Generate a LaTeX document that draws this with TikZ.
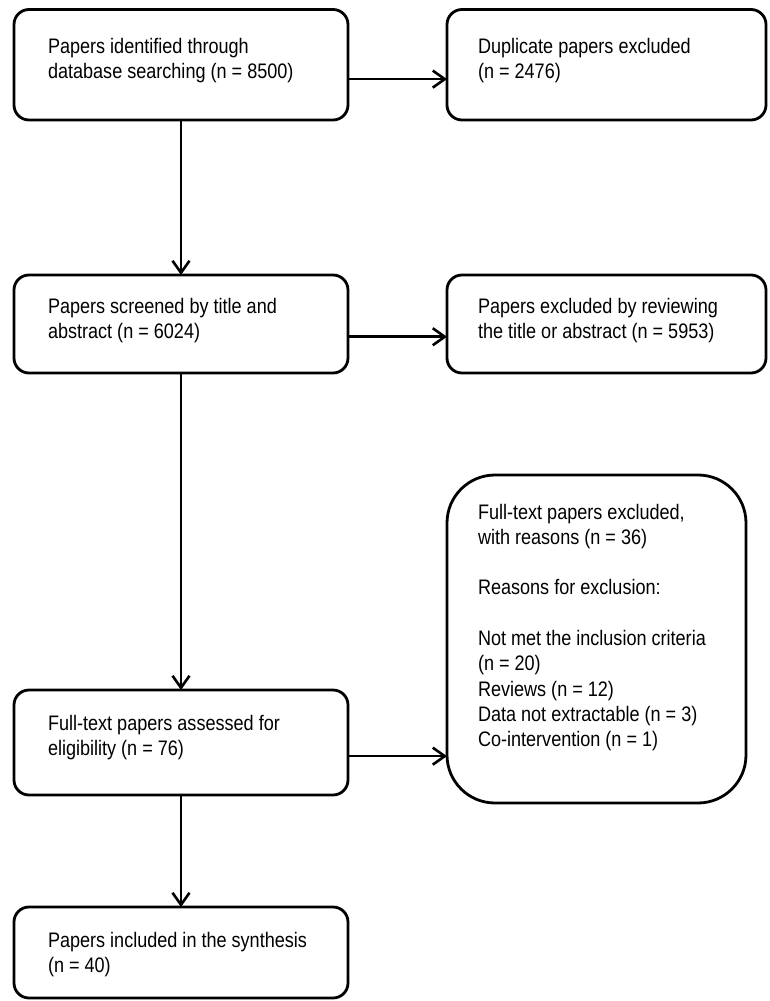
\documentclass[tikz,border=0pt]{standalone}
\usepackage{fontspec}
\setmainfont[FakeStretch=0.86]{Liberation Sans}
\usetikzlibrary{arrows.meta,calc}
\newcommand\fstrut{\rule{0pt}{17pt}}
\begin{document}
\begin{tikzpicture}[x=1pt,y=-1pt,
  box/.style={draw, line width=2.8pt, rounded corners=15pt, inner sep=0pt, outer sep=0pt, rectangle},
  bigbox/.style={box, rounded corners=48pt},
  txt/.style={anchor=north west, inner sep=0pt, outer sep=0pt, align=left, font=\fontsize{21}{25.3}\selectfont},
  arr/.style={line width=2.6pt, -{Straight Barb[length=12pt,width=17pt]}}]
\useasboundingbox (0,0) rectangle (769,1001);
\node[box, minimum width=334pt, minimum height=110.5pt] (b1) at (181,64.75) {};
\node[box, minimum width=319pt, minimum height=110.5pt] (b2) at (606.5,64.75) {};
\node[box, minimum width=334pt, minimum height=98pt] (b3) at (181,324) {};
\node[box, minimum width=319pt, minimum height=98pt] (b4) at (606.5,324) {};
\node[bigbox, minimum width=299pt, minimum height=328pt] (b5) at (596.5,639) {};
\node[box, minimum width=334pt, minimum height=105pt] (b6) at (181,742.5) {};
\node[box, minimum width=334pt, minimum height=91pt] (b7) at (181,952.5) {};

\node[txt] (t1) at (48,36) {\fstrut Papers identified through\\database searching (n = 8500)};
\node[txt] (t2) at (478,36) {\fstrut Duplicate papers excluded\\(n = 2476)};
\node[txt] (t3) at (48,296) {\fstrut Papers screened by title and\\abstract (n = 6024)};
\node[txt] (t4) at (478,296) {\fstrut Papers excluded by reviewing\\the title or abstract (n = 5953)};
\node[txt] (t5) at (478,502) {\fstrut Full-text papers excluded,\\with reasons (n = 36)\\[25.3pt]Reasons for exclusion:\\[25.3pt]Not met the inclusion criteria\\(n = 20)\\Reviews (n = 12)\\Data not extractable (n = 3)\\Co-intervention (n = 1)};
\node[txt] (t6) at (48,713) {\fstrut Full-text papers assessed for\\eligibility (n = 76)};
\node[txt] (t7) at (48,930) {\fstrut Papers included in the synthesis\\(n = 40)};

\draw[arr] ($(b1.north east)!0.63!(b1.south east)$) coordinate (a1) -- (a1 -| b2.west);
\draw[arr] ($(b3.north east)!0.63!(b3.south east)$) coordinate (a3) -- (a3 -| b4.west);
\draw[arr] ($(b6.north east)!0.63!(b6.south east)$) coordinate (a6) -- (a6 -| b5.west);
\draw[arr] (b1.south) -- (b3.north);
\draw[arr] (b3.south) -- (b6.north);
\draw[arr] (b6.south) -- (b7.north);
\end{tikzpicture}
\end{document}
